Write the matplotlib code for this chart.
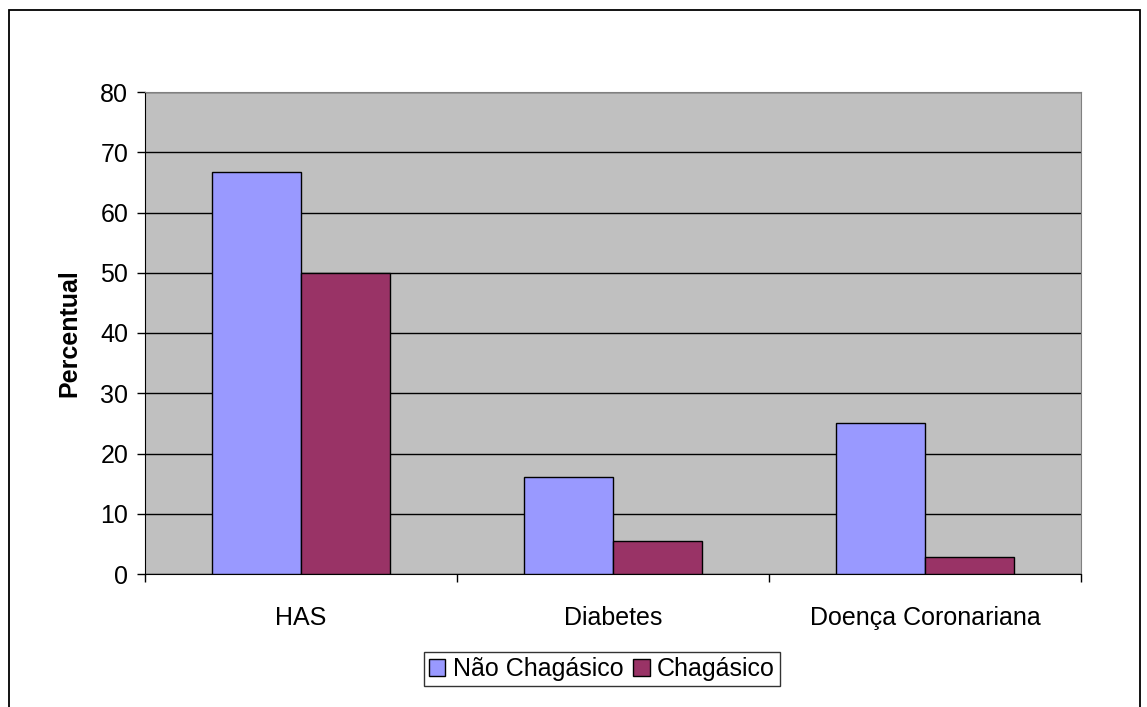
import numpy as np
import matplotlib.pyplot as plt
from matplotlib.patches import Rectangle

plt.rcParams['font.family'] = ['Liberation Sans', 'DejaVu Sans']

# dados
categorias = ['HAS', 'Diabetes', 'Doença Coronariana']
nao_chagasico = [66.7, 16.1, 25.0]
chagasico = [50.0, 5.4, 2.8]
series = ['Não Chagásico', 'Chagásico']
cores = ['#9999FF', '#993366']

W, H = 1147, 707
fig = plt.figure(figsize=(W / 100, H / 100), dpi=100)
# borda da área do gráfico (a base fica fora da imagem)
fig.patches.append(Rectangle((8.5 / W, -10 / H), 1131 / W, 707 / H,
                             transform=fig.transFigure, fill=False,
                             edgecolor='black', linewidth=1.3))

ax = fig.add_axes([145 / W, 1 - 574 / H, 936 / W, 482 / H])
ax.set_facecolor('#C0C0C0')

x = np.arange(len(categorias))
larg = 1 / 3.5
ax.bar(x - larg / 2, nao_chagasico, larg, color=cores[0], edgecolor='black',
       linewidth=1, label=series[0], zorder=3)
ax.bar(x + larg / 2, chagasico, larg, color=cores[1], edgecolor='black',
       linewidth=1, label=series[1], zorder=3)

ax.set_xlim(-0.5, len(categorias) - 0.5)
ax.set_ylim(0, 80)
ax.set_yticks(range(0, 81, 10))
ax.yaxis.grid(True, color='black', linewidth=1)
ax.set_axisbelow(True)

ax.set_xticks(x)
ax.set_xticklabels(categorias)
ax.set_xticks(np.arange(-0.5, len(categorias)), minor=True)
ax.tick_params(axis='x', which='major', length=0, pad=23, labelsize=18)
ax.tick_params(axis='x', which='minor', length=6, width=1, color='black')
ax.tick_params(axis='y', length=6, width=1, color='black', labelsize=18, pad=6)

for lado in ['top', 'right']:
    ax.spines[lado].set_color('#808080')
for lado in ['left', 'bottom']:
    ax.spines[lado].set_color('black')

ax.set_ylabel('Percentual', fontsize=18, fontweight='bold', labelpad=14)

leg = fig.legend(loc='center', bbox_to_anchor=(602 / W, 1 - 669 / H), ncol=2,
                 fontsize=18, frameon=True, fancybox=False, edgecolor='black',
                 handlelength=0.65, handleheight=0.65, handletextpad=0.3,
                 columnspacing=0.4, borderpad=0.2, borderaxespad=0)
leg.get_frame().set_linewidth(1)

fig.savefig('out.png', dpi=100)
